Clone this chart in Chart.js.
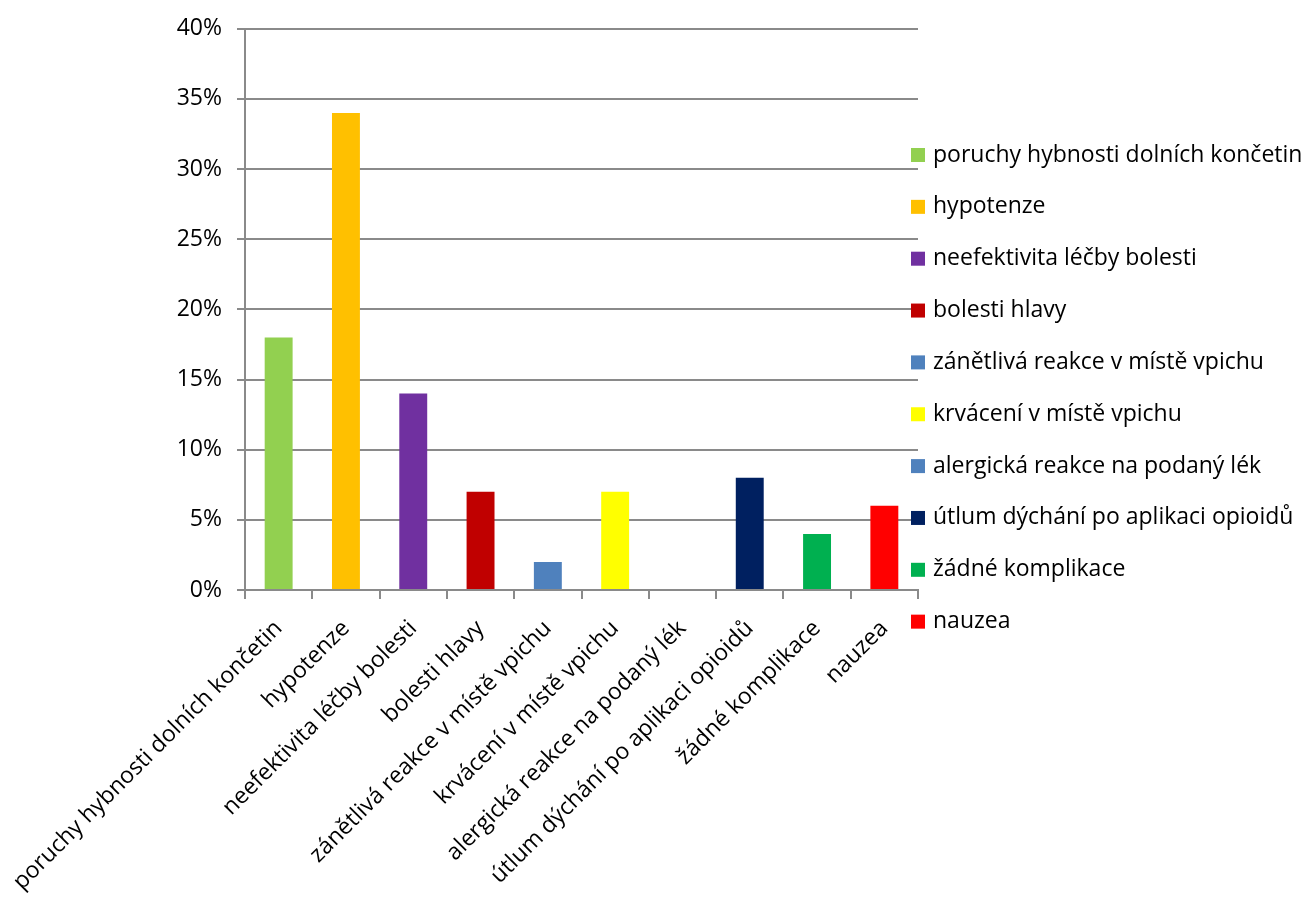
<!DOCTYPE html>
<html>
<head>
<meta charset="utf-8">
<title>Komplikace</title>
<script src="https://cdn.jsdelivr.net/npm/chart.js@4/dist/chart.umd.min.js"></script>
<style>
  html, body { margin: 0; padding: 0; background: #fff; }
  #wrap { width: 1309px; height: 897px; }
</style>
</head>
<body>
<div id="wrap"><canvas id="chart"></canvas></div>
<script>
// categories and their share (in %)
const categories = [
    "poruchy hybnosti dolních končetin",
    "hypotenze",
    "neefektivita léčby bolesti",
    "bolesti hlavy",
    "zánětlivá reakce v místě vpichu",
    "krvácení v místě vpichu",
    "alergická reakce na podaný lék",
    "útlum dýchání po aplikaci opioidů",
    "žádné komplikace",
    "nauzea"
];
const values = [18, 34, 14, 7, 2, 7, 0, 8, 4, 6];
const barColors = ["#92D050", "#FFC000", "#7030A0", "#C00000", "#4F81BD",
                   "#FFFF00", "#4F81BD", "#002060", "#00B050", "#FF0000"];
const yTicks = [0, 5, 10, 15, 20, 25, 30, 35, 40];

const FONT = "'Open Sans', sans-serif";
const FONT_SIZE = 23;
const gridColor = "#8a8a8a";

// legend on the right, one line per category
const sideLegend = {
    id: "sideLegend",
    afterDraw(chart) {
        const ctx = chart.ctx;
        const ds = chart.data.datasets[0];
        ctx.save();
        ctx.font = FONT_SIZE + "px " + FONT;
        ctx.textBaseline = "middle";
        ctx.textAlign = "left";
        chart.data.labels.forEach((lbl, i) => {
            const y = 155 + i * 51.85;
            ctx.fillStyle = ds.backgroundColor[i];
            ctx.fillRect(911, y - 7, 14, 14);
            ctx.fillStyle = "#000";
            ctx.fillText(lbl, 933, y);
        });
        ctx.restore();
    }
};

new Chart(document.getElementById("chart"), {
    type: "bar",
    data: {
        labels: categories,
        datasets: [{
            data: values,
            backgroundColor: barColors,
            barPercentage: 0.415,
            categoryPercentage: 1
        }]
    },
    options: {
        responsive: true,
        maintainAspectRatio: false,
        animation: false,
        layout: { padding: { top: 28, right: 391, left: 0, bottom: 0 } },
        plugins: {
            legend: { display: false },
            tooltip: { enabled: false }
        },
        scales: {
            x: {
                grid: {
                    offset: true,
                    drawOnChartArea: false,
                    drawTicks: true,
                    tickLength: 9,
                    color: gridColor,
                    lineWidth: 2
                },
                border: { display: true, color: gridColor, width: 2 },
                ticks: {
                    autoSkip: false,
                    minRotation: 45,
                    maxRotation: 45,
                    padding: 16,
                    color: "#000",
                    font: { family: FONT, size: FONT_SIZE }
                },
                afterFit(scale) {
                    scale.height = 307;
                    // the long first label may run under the y labels
                    scale.paddingLeft = 0;
                    scale.paddingRight = 0;
                }
            },
            y: {
                min: 0,
                max: 40,
                afterBuildTicks(scale) { scale.ticks = yTicks.map(v => ({ value: v })); },
                grid: {
                    color: gridColor,
                    lineWidth: 2,
                    tickLength: 8
                },
                border: { display: true, color: gridColor, width: 2 },
                ticks: {
                    padding: 15,
                    color: "#000",
                    font: { family: FONT, size: FONT_SIZE },
                    callback: v => v + "%"
                },
                afterFit(scale) { scale.width = 245; }
            }
        }
    },
    plugins: [sideLegend]
});
</script>
</body>
</html>
